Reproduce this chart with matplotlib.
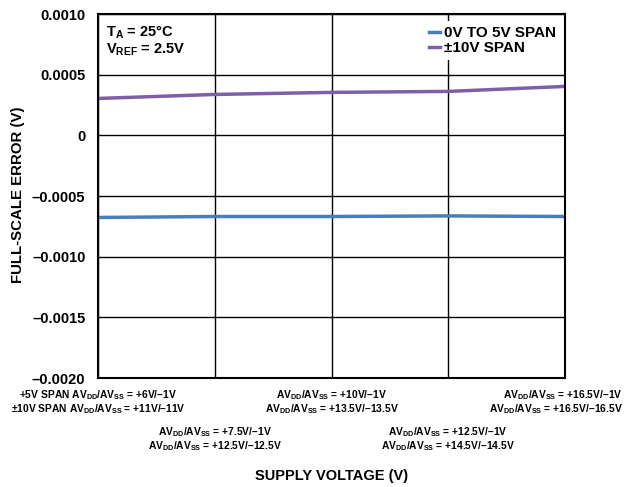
import matplotlib
matplotlib.use("Agg")
import matplotlib.pyplot as plt
import matplotlib.transforms as mtransforms

plt.rcParams['font.family'] = ['Liberation Sans', 'DejaVu Sans']
plt.rcParams['font.weight'] = 'bold'
plt.rcParams['mathtext.default'] = 'regular'
plt.rcParams['mathtext.fontset'] = 'custom'
plt.rcParams['mathtext.rm'] = 'Liberation Sans:bold'
plt.rcParams['mathtext.it'] = 'Liberation Sans:bold'
plt.rcParams['mathtext.bf'] = 'Liberation Sans:bold'

supply_idx = [0, 1, 2, 3, 4]
span_0_5 = [-0.000677, -0.000669, -0.000669, -0.000664, -0.000669]
span_pm10 = [0.000304, 0.000337, 0.000354, 0.000362, 0.000403]

yticks = [0.0010, 0.0005, 0, -0.0005, -0.0010, -0.0015, -0.0020]
ytick_labels = ['0.0010', '0.0005', '0', '–0.0005', '–0.0010', '–0.0015', '–0.0020']

xlabels_line1 = [
    r'+5V SPAN AV$_{DD}$/AV$_{SS}$ = +6V/–1V',
    r'AV$_{DD}$/AV$_{SS}$ = +7.5V/–1V',
    r'AV$_{DD}$/AV$_{SS}$ = +10V/–1V',
    r'AV$_{DD}$/AV$_{SS}$ = +12.5V/–1V',
    r'AV$_{DD}$/AV$_{SS}$ = +16.5V/–1V',
]
xlabels_line2 = [
    r'±10V SPAN AV$_{DD}$/AV$_{SS}$ = +11V/–11V',
    r'AV$_{DD}$/AV$_{SS}$ = +12.5V/–12.5V',
    r'AV$_{DD}$/AV$_{SS}$ = +13.5V/–13.5V',
    r'AV$_{DD}$/AV$_{SS}$ = +14.5V/–14.5V',
    r'AV$_{DD}$/AV$_{SS}$ = +16.5V/–16.5V',
]

blue = '#4a7ebb'
purple = '#7f5fa8'

fig = plt.figure(figsize=(6.31, 4.87), dpi=100)
ax = fig.add_axes([98/631, 1-378/487, (565-98)/631, (378-14)/487])

ax.set_xlim(0, 4)
ax.set_ylim(-0.0020, 0.0010)
ax.set_xticks(supply_idx)
ax.set_xticklabels([])
ax.set_yticks(yticks)
ax.set_yticklabels(ytick_labels, fontsize=10.5, fontweight='bold')
ax.tick_params(length=0, pad=9)
ax.grid(True, color='black', linewidth=1.0)
ax.set_axisbelow(True)
for s in ax.spines.values():
    s.set_linewidth(1.5)
    s.set_color('black')

l1, = ax.plot(supply_idx, span_0_5, color=blue, linewidth=2.5, label='0V TO 5V SPAN')
l2, = ax.plot(supply_idx, span_pm10, color=purple, linewidth=2.5, label='±10V SPAN')

leg = ax.legend(handles=[l1, l2], loc='upper right', bbox_to_anchor=(1.007, 1.0),
                frameon=True, fancybox=False, edgecolor='none', facecolor='white',
                framealpha=1.0, fontsize=11, handlelength=0.75, handletextpad=0.25,
                borderpad=0.35, labelspacing=0.05, borderaxespad=0.45)
for t in leg.get_texts():
    t.set_fontweight('bold')

ax.text(0.017, 0.975, r'T$_{A}$ = 25°C', transform=ax.transAxes, fontsize=10.5,
        fontweight='bold', va='top', ha='left')
ax.text(0.017, 0.925, r'V$_{REF}$ = 2.5V', transform=ax.transAxes, fontsize=10.5,
        fontweight='bold', va='top', ha='left')

trans = mtransforms.blended_transform_factory(ax.transData, fig.transFigure)
for i, (a, b) in enumerate(zip(xlabels_line1, xlabels_line2)):
    if i % 2 == 0:
        y1, y2 = 1-395/487, 1-409/487
    else:
        y1, y2 = 1-432/487, 1-446/487
    if i == 4:
        tr = fig.transFigure
        x = 623/631
        ha = 'right'
    else:
        tr = trans
        x = supply_idx[i]
        ha = 'center'
    ax.text(x, y1, a, transform=tr, fontsize=7.4, fontweight='bold', ha=ha, va='center')
    ax.text(x, y2, b, transform=tr, fontsize=7.4, fontweight='bold', ha=ha, va='center')

fig.text(332/631, 1-476/487, 'SUPPLY VOLTAGE (V)', fontsize=10.5, fontweight='bold',
         ha='center', va='center')
fig.text(18/631, 1-195/487, 'FULL-SCALE ERROR (V)', fontsize=10.8, fontweight='bold',
         ha='center', va='center', rotation=90)

fig.savefig('out.png', dpi=100)
